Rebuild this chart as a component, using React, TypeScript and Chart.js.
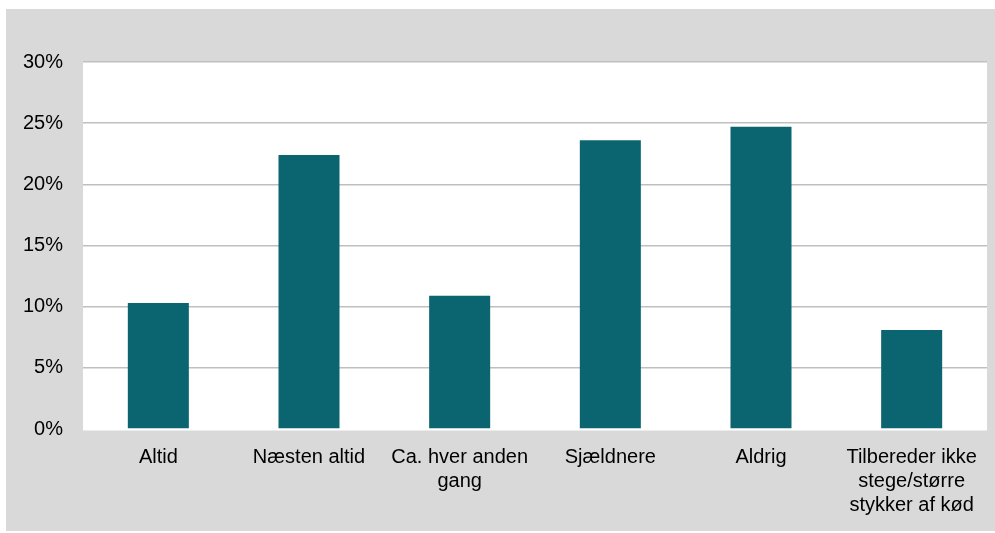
import React, { useEffect, useRef } from "react";
import { Chart, registerables } from "chart.js";

Chart.register(...registerables);

// Answers and their shares (percent)
const categories: (string | string[])[] = [
  "Altid",
  "Næsten altid",
  ["Ca. hver anden", "gang"],
  "Sjældnere",
  "Aldrig",
  ["Tilbereder ikke", "stege/større", "stykker af kød"],
];
const shares = [10.3, 22.4, 10.9, 23.6, 24.7, 8.1];
const yTicks = [0, 5, 10, 15, 20, 25, 30];

const BAR_COLOR = "#0a6570";
const PANEL_GRAY = "#d9d9d9";
const GRID_GRAY = "#bfbfbf";
const FONT = "'Liberation Sans', Arial, sans-serif";

// White plotting area drawn behind grid and bars
const plotBackground = {
  id: "plotBackground",
  beforeDraw(chart: Chart) {
    const { ctx, chartArea } = chart;
    if (!chartArea) return;
    ctx.save();
    ctx.fillStyle = "#ffffff";
    ctx.fillRect(
      chartArea.left,
      chartArea.top,
      chartArea.right - chartArea.left,
      chartArea.bottom - chartArea.top + 1.5
    );
    ctx.restore();
  },
};

export default function App() {
  const canvasRef = useRef<HTMLCanvasElement | null>(null);

  useEffect(() => {
    if (!canvasRef.current) return;
    const chart = new Chart(canvasRef.current, {
      type: "bar",
      data: {
        labels: categories,
        datasets: [
          {
            data: shares,
            backgroundColor: BAR_COLOR,
            borderWidth: 0,
            categoryPercentage: 1,
            barPercentage: 0.405,
          },
        ],
      },
      options: {
        animation: false,
        responsive: false,
        maintainAspectRatio: false,
        layout: { padding: { top: 53, right: 8, left: 0, bottom: 0 } },
        plugins: {
          legend: { display: false },
          tooltip: { enabled: false },
        },
        scales: {
          x: {
            grid: { display: false, drawTicks: false },
            border: { display: false },
            ticks: {
              color: "#000",
              padding: 16,
              maxRotation: 0,
              autoSkip: false,
              font: { family: FONT, size: 20, lineHeight: 1.2 },
            },
            afterFit(scale: any) {
              scale.height = 102;
            },
          },
          y: {
            min: 0,
            max: 30,
            afterBuildTicks(scale: any) {
              scale.ticks = yTicks.map((v) => ({ value: v }));
            },
            grid: {
              drawTicks: false,
              lineWidth: 1.5,
              color: (c: any) =>
                c.tick && c.tick.value === 0 ? "rgba(0,0,0,0)" : GRID_GRAY,
            },
            border: { display: false },
            ticks: {
              color: "#000",
              padding: 20,
              font: { family: FONT, size: 20 },
              callback: (v: any) => `${v}%`,
            },
            afterFit(scale: any) {
              scale.width = 77;
            },
          },
        },
      },
      plugins: [plotBackground],
    });
    return () => chart.destroy();
  }, []);

  return (
    <div
      style={{
        position: "absolute",
        left: 6,
        top: 9,
        width: 989,
        height: 522,
        background: PANEL_GRAY,
      }}
    >
      <canvas
        ref={canvasRef}
        width={989}
        height={522}
        style={{ display: "block", width: 989, height: 522 }}
      />
    </div>
  );
}
